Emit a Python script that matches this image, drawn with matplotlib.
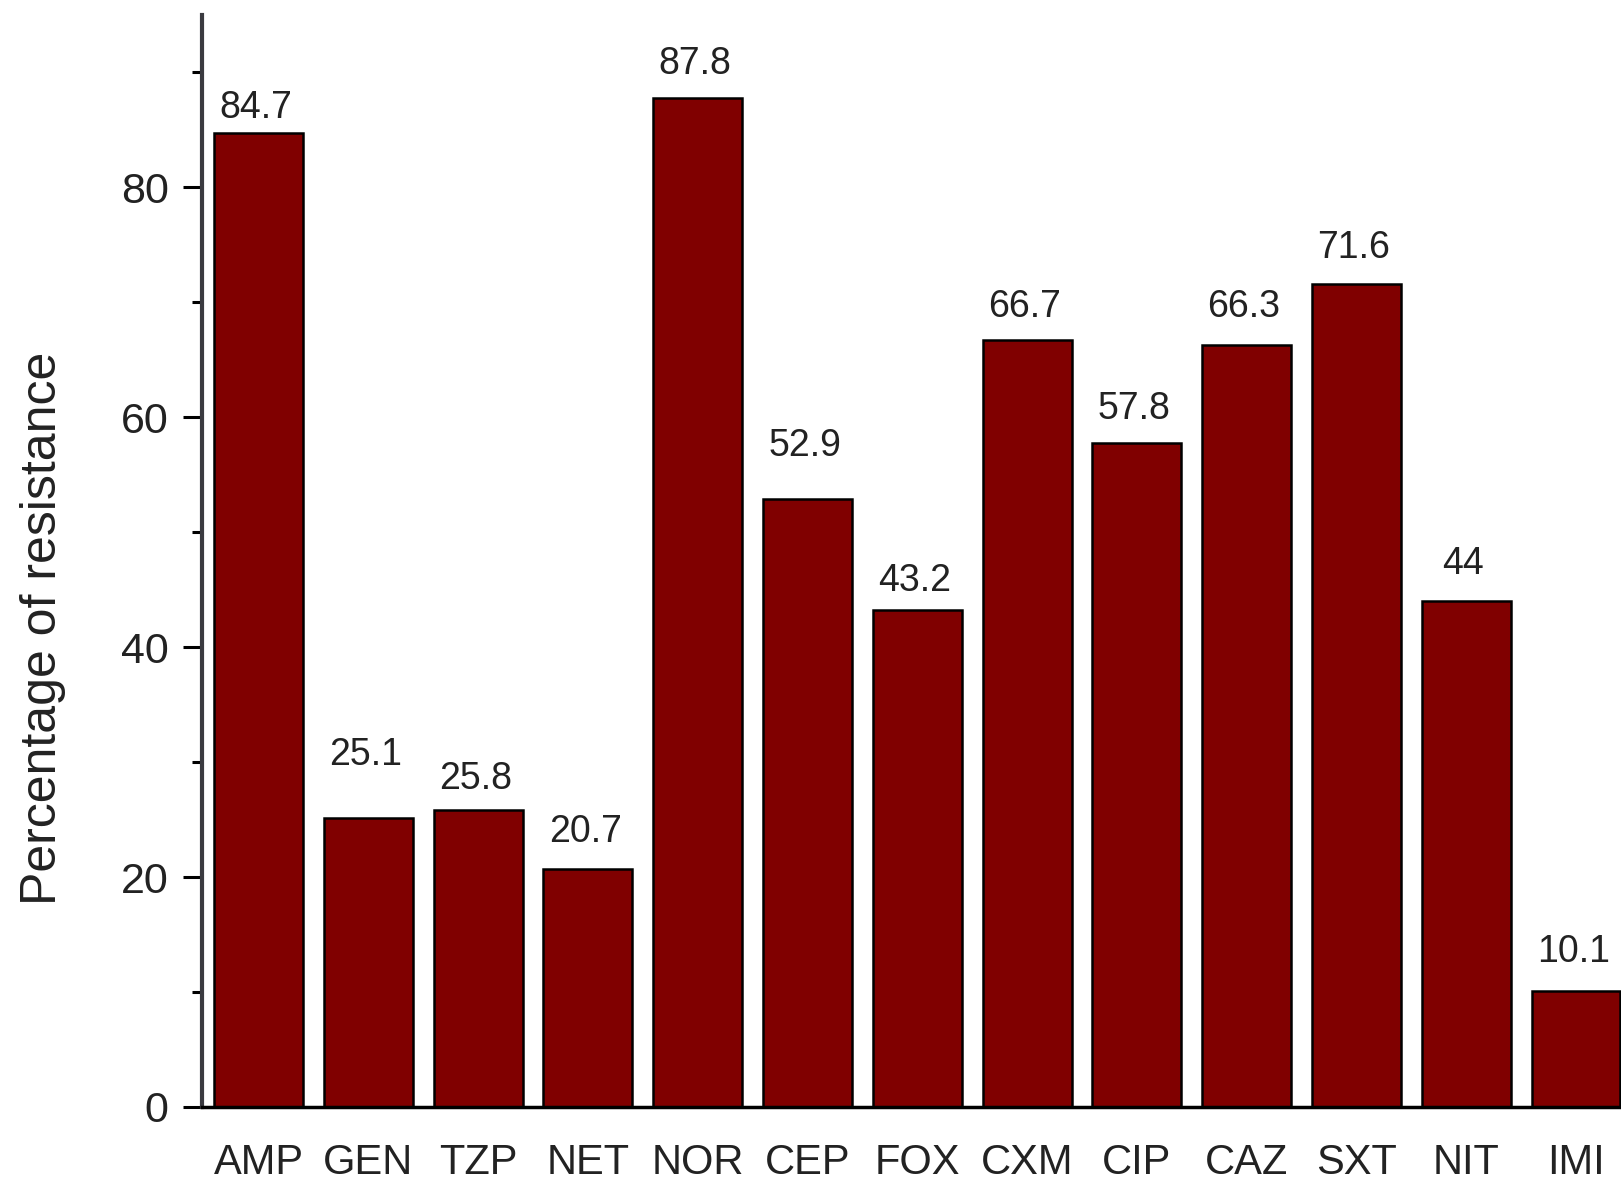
import matplotlib
matplotlib.use("Agg")
import matplotlib.pyplot as plt
from matplotlib.ticker import MultipleLocator

plt.rcParams["font.family"] = ["Liberation Sans", "DejaVu Sans"]

drugs = ["AMP", "GEN", "TZP", "NET", "NOR", "CEP", "FOX",
         "CXM", "CIP", "CAZ", "SXT", "NIT", "IMI"]
resistance = [84.7, 25.1, 25.8, 20.7, 87.8, 52.9, 43.2,
              66.7, 57.8, 66.3, 71.6, 44, 10.1]
value_text = ["84.7", "25.1", "25.8", "20.7", "87.8", "52.9", "43.2",
              "66.7", "57.8", "66.3", "71.6", "44", "10.1"]

# gap between bar top and its value label, in points
label_gap = [5, 33, 10, 14, 11, 25, 8, 11, 11, 14, 13, 14, 15]

W, H = 1621, 1183
fig = plt.figure(figsize=(W / 100, H / 100), dpi=100)
ax = fig.add_axes([202 / W, 1 - 1107 / H, 1 - 202 / W, (1107 - 15) / H])

x = list(range(len(drugs)))
ax.bar(x, resistance, width=0.81, color="#800000",
       edgecolor="black", linewidth=1.8, zorder=2)

for xi, v, t, g in zip(x, resistance, value_text, label_gap):
    ax.annotate(t, (xi, v), xytext=(-2, g), textcoords="offset points",
                ha="center", va="bottom", fontsize=27, color="#222222")

ax.set_xlim(-0.515, 12.41)
ax.set_ylim(0, 95)
ax.set_xticks(x)
ax.set_xticklabels(drugs, fontsize=30, color="#222222")
ax.tick_params(axis="x", length=0, pad=26)

ax.yaxis.set_major_locator(MultipleLocator(20))
ax.yaxis.set_minor_locator(MultipleLocator(10))
ax.tick_params(axis="y", which="major", length=14, width=2.2,
               labelsize=31, pad=10, direction="out", labelcolor="#222222")
ax.tick_params(axis="y", which="minor", length=7, width=2.2, direction="out")

for s in ("top", "right"):
    ax.spines[s].set_visible(False)
ax.spines["left"].set_linewidth(3)
ax.spines["left"].set_color("#3a3a40")
ax.spines["bottom"].set_linewidth(2.5)
ax.spines["bottom"].set_color("black")
ax.spines["bottom"].set_zorder(3)

fig.text(43 / W, 1 - 628 / H, "Percentage of resistance", rotation=90,
         ha="center", va="center", fontsize=36, color="#222222")

fig.savefig("out.png", dpi=100)
